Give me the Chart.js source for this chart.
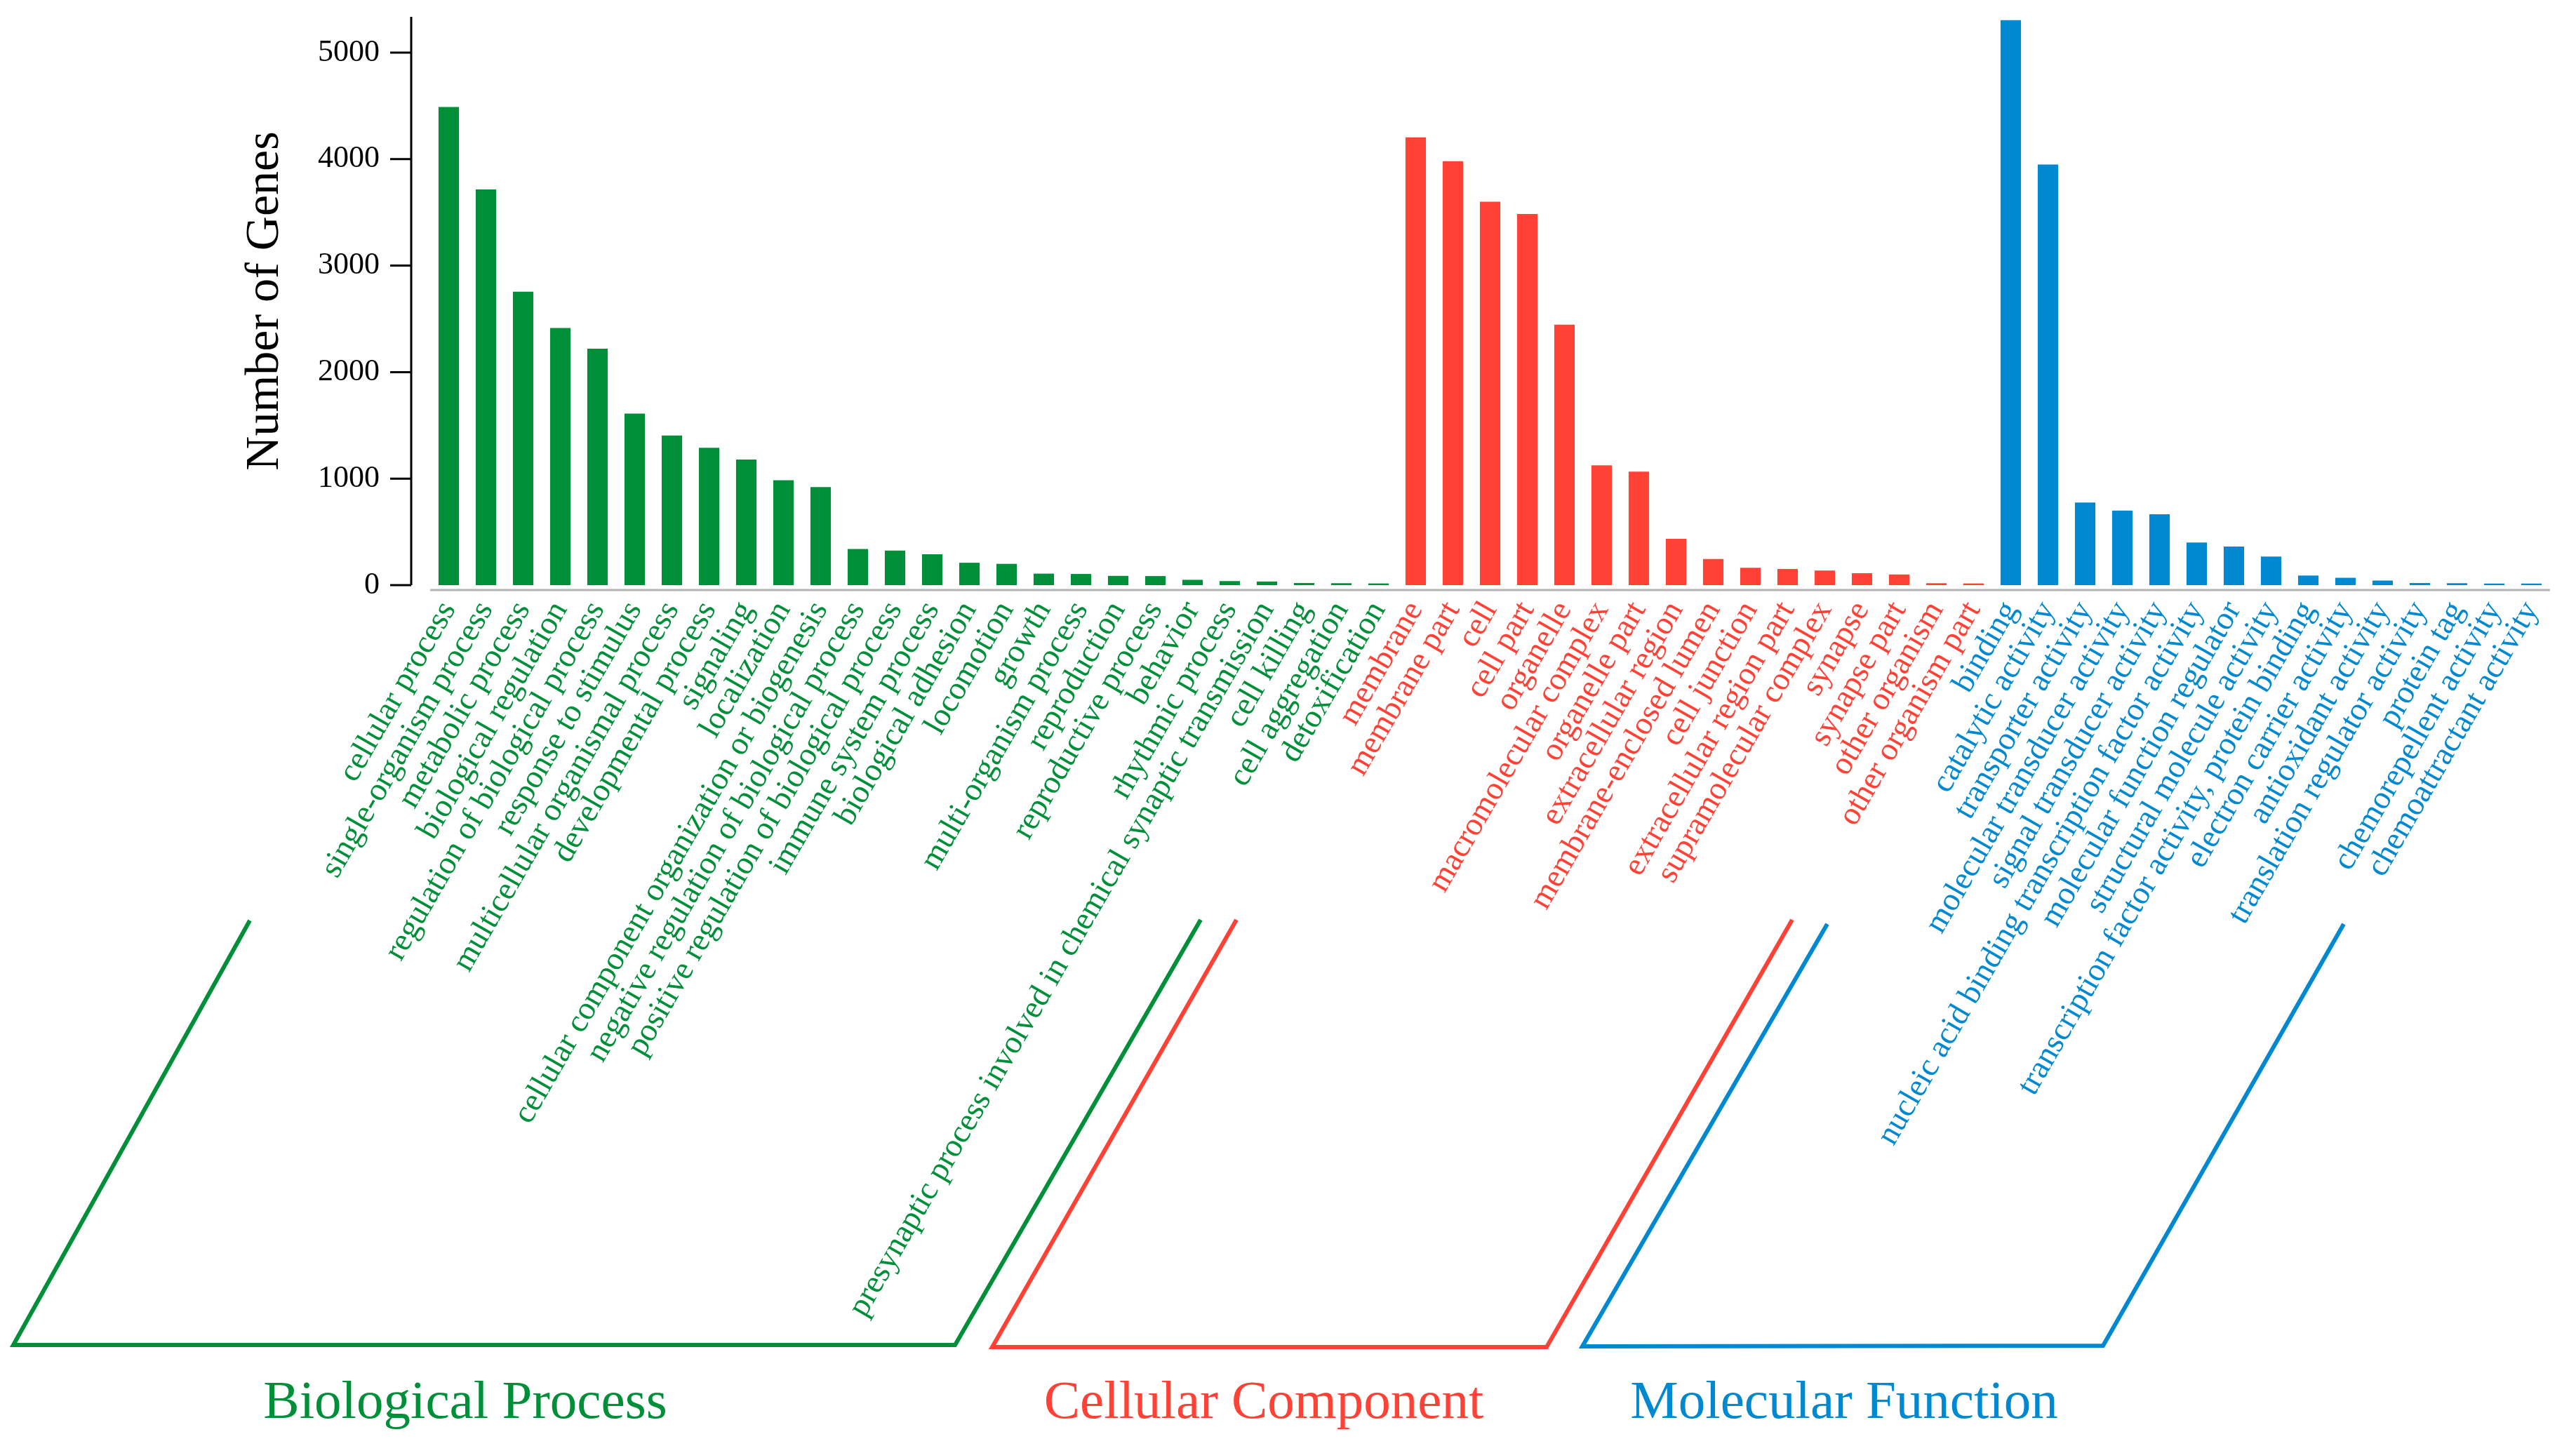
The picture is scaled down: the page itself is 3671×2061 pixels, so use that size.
<!DOCTYPE html>
<html>
<head>
<meta charset="utf-8">
<script src="https://cdn.jsdelivr.net/npm/chart.js@4.4.1/dist/chart.umd.min.js"></script>
<style>
  html, body { margin: 0; padding: 0; background: #fff; }
  #wrap { width: 3671px; height: 2061px; position: relative; }
</style>
</head>
<body>
<div id="wrap"><canvas id="goChart"></canvas></div>
<script>
// GO categories and gene counts
const bpLabels = ['cellular process', 'single-organism process', 'metabolic process', 'biological regulation',
  'regulation of biological process', 'response to stimulus', 'multicellular organismal process',
  'developmental process', 'signaling', 'localization', 'cellular component organization or biogenesis',
  'negative regulation of biological process', 'positive regulation of biological process',
  'immune system process', 'biological adhesion', 'locomotion', 'growth', 'multi-organism process',
  'reproduction', 'reproductive process', 'behavior', 'rhythmic process',
  'presynaptic process involved in chemical synaptic transmission', 'cell killing', 'cell aggregation',
  'detoxification'];
const bpValues = [4490, 3715, 2755, 2415, 2220, 1610, 1405, 1290, 1180, 985, 920,
  340, 325, 290, 210, 200, 108, 105, 87, 85, 50, 38, 34, 20, 18, 16];

const ccLabels = ['membrane', 'membrane part', 'cell', 'cell part', 'organelle', 'macromolecular complex',
  'organelle part', 'extracellular region', 'membrane-enclosed lumen', 'cell junction',
  'extracellular region part', 'supramolecular complex', 'synapse', 'synapse part', 'other organism',
  'other organism part'];
const ccValues = [4205, 3980, 3600, 3485, 2445, 1125, 1065, 435, 245, 163, 152, 137, 112, 100, 18, 16];

const mfLabels = ['binding', 'catalytic activity', 'transporter activity', 'molecular transducer activity',
  'signal transducer activity', 'nucleic acid binding transcription factor activity',
  'molecular function regulator', 'structural molecule activity',
  'transcription factor activity, protein binding', 'electron carrier activity', 'antioxidant activity',
  'translation regulator activity', 'protein tag', 'chemorepellent activity', 'chemoattractant activity'];
const mfValues = [5305, 3950, 775, 700, 665, 400, 362, 268, 90, 69, 43, 20, 18, 15, 15];

const groupNames = ['Biological Process', 'Cellular Component', 'Molecular Function'];
const yTicks = [0, 1000, 2000, 3000, 4000, 5000];

const GREEN = '#008f39', RED = '#ff4136', BLUE = '#0088d1';
const SERIF = '"Liberation Serif", "Times New Roman", serif';

const labels = [...bpLabels, ...ccLabels, ...mfLabels];
const values = [...bpValues, ...ccValues, ...mfValues];
const colors = [
  ...bpLabels.map(() => GREEN),
  ...ccLabels.map(() => RED),
  ...mfLabels.map(() => BLUE)
];

// axis line, baseline, brackets and group names
const decorations = {
  id: 'decorations',
  beforeDraw(chart) {
    const { ctx } = chart;
    ctx.save();
    ctx.fillStyle = '#fff';
    ctx.fillRect(0, 0, chart.width, chart.height);
    ctx.restore();
  },
  afterDraw(chart) {
    const { ctx, chartArea, scales: { y } } = chart;
    const y0 = y.getPixelForValue(0);
    const ax = chartArea.left - 27;

    ctx.save();
    ctx.strokeStyle = '#000';
    ctx.lineWidth = 3;
    ctx.beginPath();
    ctx.moveTo(ax, chartArea.top);
    ctx.lineTo(ax, y0);
    yTicks.forEach(v => {
      const py = y.getPixelForValue(v);
      ctx.moveTo(ax - 30, py);
      ctx.lineTo(ax, py);
    });
    ctx.stroke();

    ctx.strokeStyle = '#b4b4b4';
    ctx.beginPath();
    ctx.moveTo(chartArea.left, y0 + 7);
    ctx.lineTo(chartArea.right, y0 + 7);
    ctx.stroke();

    const brackets = [
      { color: GREEN, pts: [[356, 1312], [19, 1917], [1361, 1917], [1711, 1311]], cx: 663 },
      { color: RED, pts: [[1762, 1311], [1414, 1920], [2204, 1920], [2554, 1311]], cx: 1801 },
      { color: BLUE, pts: [[2604, 1317], [2255, 1919], [2997, 1918], [3340, 1317]], cx: 2628 }
    ];
    ctx.lineWidth = 6;
    ctx.lineJoin = 'miter';
    ctx.font = '77px ' + SERIF;
    ctx.textAlign = 'center';
    ctx.textBaseline = 'alphabetic';
    brackets.forEach((b, i) => {
      ctx.strokeStyle = b.color;
      ctx.beginPath();
      b.pts.forEach(([px, py], k) => k ? ctx.lineTo(px, py) : ctx.moveTo(px, py));
      ctx.stroke();
      ctx.fillStyle = b.color;
      ctx.fillText(groupNames[i], b.cx, 2021);
    });
    ctx.restore();
  }
};

new Chart(document.getElementById('goChart'), {
  type: 'bar',
  data: {
    labels: labels,
    datasets: [{
      data: values,
      backgroundColor: colors,
      borderWidth: 0,
      barPercentage: 0.55,
      categoryPercentage: 1.0
    }]
  },
  options: {
    responsive: true,
    maintainAspectRatio: false,
    devicePixelRatio: 1,
    animation: false,
    layout: { padding: { top: 24, right: 37, left: 0, bottom: 0 } },
    plugins: { legend: { display: false }, tooltip: { enabled: false } },
    scales: {
      x: {
        grid: { display: false, drawTicks: false },
        border: { display: false },
        ticks: {
          autoSkip: false,
          minRotation: 60,
          maxRotation: 60,
          padding: 14,
          font: { family: SERIF, size: 46 },
          color: ctx => colors[ctx.index]
        },
        afterFit: scale => {
          scale.height = 1227;
          scale.paddingLeft = 0;
          scale.paddingRight = 0;
          scale.paddingTop = 0;
          scale.paddingBottom = 0;
        }
      },
      y: {
        min: 0,
        max: 5336,
        grid: { display: false, drawTicks: false },
        border: { display: false },
        afterBuildTicks: scale => { scale.ticks = yTicks.map(v => ({ value: v })); },
        ticks: {
          padding: 72,
          color: '#000',
          font: { family: SERIF, size: 44 },
          callback: v => String(v)
        },
        title: {
          display: true,
          text: 'Number of Genes',
          color: '#000',
          font: { family: SERIF, size: 68 },
          padding: { top: 337, bottom: 0 }
        },
        afterFit: scale => {
          scale.width = 613;
          scale.paddingTop = 0;
          scale.paddingBottom = 0;
        }
      }
    }
  },
  plugins: [decorations]
});
</script>
</body>
</html>
